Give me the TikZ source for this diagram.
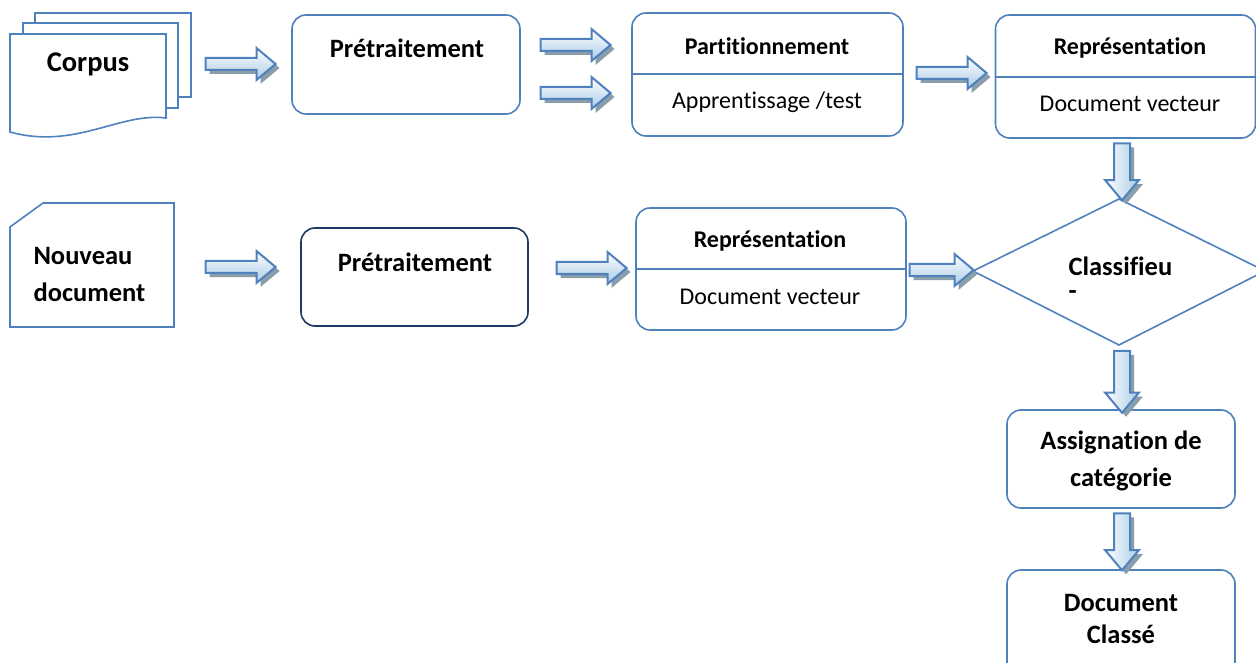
\documentclass[tikz,border=0pt]{standalone}
\usepackage{fontspec}
\setmainfont[Ligatures=NoCommon]{Carlito}
\usetikzlibrary{shapes.arrows,shapes.geometric,shadows}
\definecolor{edgeblue}{HTML}{4F81BD}
\definecolor{navy}{HTML}{1F3864}
\definecolor{arrowfill}{HTML}{A9CBE6}
\definecolor{arrowshade}{HTML}{8A9DAB}
\tikzset{
  box/.style={draw=edgeblue, line width=1.6pt, rounded corners=14pt, fill=white},
  page/.style={draw=edgeblue, line width=1.6pt, fill=white},
  blockarrow/.style={single arrow, draw=edgeblue, line width=2pt,
    inner xsep=0pt, inner ysep=5pt,
    single arrow head extend=10pt, single arrow tip angle=80,
    top color=white, bottom color=arrowfill,
    general shadow={fill=arrowshade, shadow xshift=4pt, shadow yshift=-4pt}},
  downarrow/.style={blockarrow, shape border rotate=270, inner sep=7pt,
    single arrow head extend=9pt,
    left color=white, right color=arrowfill},
  big/.style={font=\fontsize{26.5}{32}\selectfont\bfseries},
  head/.style={font=\fontsize{24}{28}\selectfont\bfseries},
  plain/.style={font=\fontsize{24}{28}\selectfont},
}
\begin{document}
\begin{tikzpicture}[x=1pt,y=-1pt]
\useasboundingbox (0,0) rectangle (1256,663);
\begin{scope}
\clip (0,0) rectangle (1256,663);

% stacked pages of the corpus
\draw[page] (35,13) rectangle (191,97);
\draw[page] (23,23) rectangle (178,108);
\draw[page] (10,34) -- (166,34) -- (166,118)
  .. controls (120,112) and (75,150) .. (10,132) -- cycle;
\node[font=\fontsize{28.5}{34}\selectfont\bfseries] (corpus) at (88,64) {Corpus};

% new document with cut corner
\draw[page] (10,227) -- (43,203) -- (174,203) -- (174,327) -- (10,327) -- cycle;
\node[big, align=left, anchor=west] (nouveau) at (30,275) {Nouveau\\[5pt]document};

% first row
\node[box, minimum width=228pt, minimum height=99pt] (pre1) at (406,64.5) {};
\node[big] (pre1t) at (407,48) {Prétraitement};

\node[box, minimum width=271pt, minimum height=123pt] (part) at (767.5,74.5) {};
\draw[draw=edgeblue, line width=1.6pt] (part.west |- 0,74) -- (part.east |- 0,74);
\node[head] (partt) at (767,46) {Partitionnement};
\node[plain] (partb) at (767,102) {Apprentissage /test};

\node[box, minimum width=260pt, minimum height=123pt] (rep1) at (1125.5,76.5) {};
\draw[draw=edgeblue, line width=1.6pt] (rep1.west |- 0,77) -- (rep1.east |- 0,77);
\node[head] (rep1t) at (1130,48) {Représentation};
\node[plain] (rep1b) at (1130,104) {Document vecteur};

% second row
\node[box, draw=navy, minimum width=227pt, minimum height=98pt] (pre2) at (414.5,277) {};
\node[big] (pre2t) at (415,262) {Prétraitement};

\node[box, minimum width=270pt, minimum height=122pt] (rep2) at (771,269) {};
\draw[draw=edgeblue, line width=1.6pt] (rep2.west |- 0,269) -- (rep2.east |- 0,269);
\node[head] (rep2t) at (770,241) {Représentation};
\node[plain] (rep2b) at (770,297) {Document vecteur};

% classifier
\draw[page] (973,271) -- (1119,199) -- (1265,271) -- (1119,345) -- cycle;
\node[big, anchor=west] (clf) at (1065,266) {Classifieu};
\node[big, anchor=west] (clfdash) at (1065,295) {-};

% output column
\node[box, minimum width=228pt, minimum height=98pt] (assign) at (1121,459) {};
\node[big, align=center] (assignt) at (1121,461) {Assignation de\\[5pt]catégorie};
\node[box, minimum width=228pt, minimum height=110pt] (final) at (1121,625) {};
\node[big, align=center] (finalt) at (1121,619) {Document\\Classé};

% block arrows
\node[blockarrow, minimum height=70pt] (a1) at (237,64) {};
\node[blockarrow, minimum height=70pt] (a2) at (572,45) {};
\node[blockarrow, minimum height=70pt] (a3) at (572,93) {};
\node[blockarrow, minimum height=70pt] (a4) at (948,73) {};
\node[blockarrow, minimum height=70pt] (a5) at (237,267) {};
\node[blockarrow, minimum height=70pt] (a6) at (588,268) {};
\node[blockarrow, minimum height=64pt] (a7) at (938,270) {};
\node[downarrow, minimum height=57pt] (d1) at (1122,167) {};
\node[downarrow, minimum height=62pt] (d2) at (1122,377) {};
\node[downarrow, minimum height=57pt] (d3) at (1122,537) {};
\end{scope}
\end{tikzpicture}
\end{document}
